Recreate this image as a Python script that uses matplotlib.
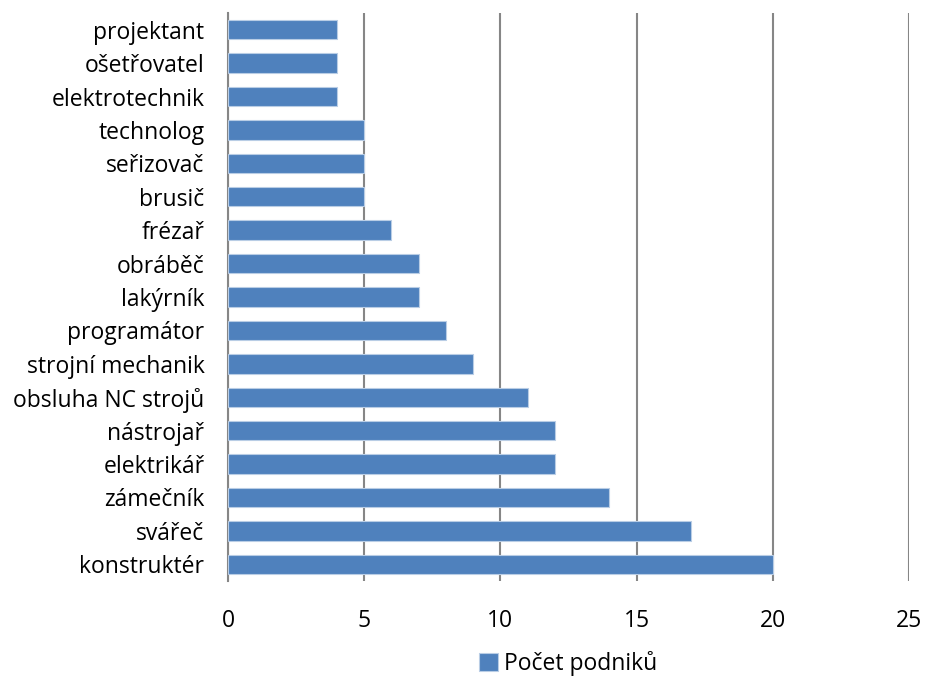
import numpy as np
import matplotlib.pyplot as plt

categories = ['konstruktér', 'svářeč', 'zámečník', 'elektrikář', 'nástrojař',
              'obsluha NC strojů', 'strojní mechanik', 'programátor', 'lakýrník',
              'obráběč', 'frézař', 'brusič', 'seřizovač', 'technolog',
              'elektrotechnik', 'ošetřovatel', 'projektant']
values = [20, 17, 14, 12, 12, 11, 9, 8, 7, 7, 6, 5, 5, 5, 4, 4, 4]
xticks = [0, 5, 10, 15, 20, 25]

plt.rcParams['font.family'] = ['Open Sans', 'DejaVu Sans']

fig = plt.figure(figsize=(9.25, 6.82), dpi=100)
ax = fig.add_axes([228/925, 1 - 581/682, (909 - 228)/925, (581 - 13)/682])

y = np.arange(len(categories))
ax.barh(y, values, height=0.58, color='#4F81BD', edgecolor='#B9CDE5',
        linewidth=0.8, label='Počet podniků', zorder=3)

ax.set_xlim(0, 25)
ax.set_ylim(-0.5, len(categories) - 0.5)
ax.set_xticks(xticks)
ax.set_xticklabels([str(t) for t in xticks])
ax.set_yticks(y)
ax.set_yticklabels(categories)

for s in ['top', 'right', 'bottom']:
    ax.spines[s].set_visible(False)
ax.spines['left'].set_color('#868686')
ax.spines['left'].set_linewidth(1.5)

ax.grid(axis='x', color='#868686', linewidth=1.5, zorder=0)
ax.tick_params(axis='y', length=0, pad=17, labelsize=16.5, colors='black')
ax.tick_params(axis='x', length=0, pad=20, labelsize=16.5, colors='black')

ax.legend(loc='center', bbox_to_anchor=(0.5, -0.145), frameon=False,
          fontsize=16.5, handlelength=0.8, handleheight=0.8, handletextpad=0.3,
          borderpad=0)

fig.savefig('out.png', dpi=100)
